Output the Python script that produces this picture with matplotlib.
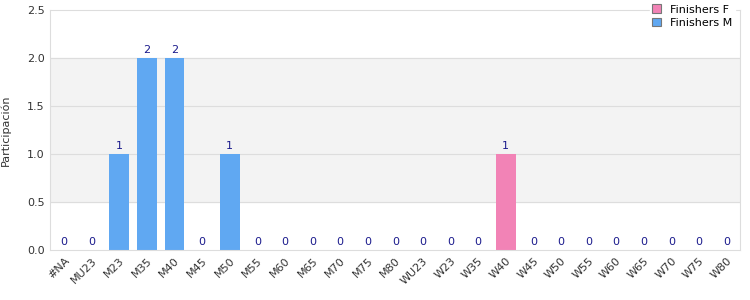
import matplotlib.pyplot as plt
import numpy as np

categories = ["#NA", "MU23", "M23", "M35", "M40", "M45", "M50", "M55", "M60", "M65",
              "M70", "M75", "M80", "WU23", "W23", "W35", "W40", "W45", "W50", "W55",
              "W60", "W65", "W70", "W75", "W80"]
finishers_f = [0, 0, 0, 0, 0, 0, 0, 0, 0, 0, 0, 0, 0, 0, 0, 0, 1, 0, 0, 0, 0, 0, 0, 0, 0]
finishers_m = [0, 0, 1, 2, 2, 0, 1, 0, 0, 0, 0, 0, 0, 0, 0, 0, 0, 0, 0, 0, 0, 0, 0, 0, 0]

pink = "#f283b6"
blue = "#60a8f2"

fig = plt.figure(figsize=(7.5, 3), dpi=100)
ax = fig.add_axes([0.067, 0.167, 0.92, 0.8])

x = np.arange(len(categories))
ax.axhspan(0.5, 2.0, color="#f3f3f3", zorder=0)
for y in [0.5, 1.0, 1.5, 2.0]:
    ax.axhline(y, color="#dddddd", lw=0.8, zorder=1)

ax.bar(x, finishers_f, width=0.72, color=pink, label="Finishers F", zorder=2)
ax.bar(x, finishers_m, width=0.72, bottom=finishers_f, color=blue, label="Finishers M", zorder=2)

totals = [f + m for f, m in zip(finishers_f, finishers_m)]
for xi, t in zip(x, totals):
    ax.text(xi, t + 0.03, str(t), ha="center", va="bottom", fontsize=8, color="#1a1a8c")

ax.set_xlim(-0.5, len(categories) - 0.5)
ax.set_ylim(0, 2.5)
ax.set_yticks([0, 0.5, 1.0, 1.5, 2.0, 2.5])
ax.set_yticklabels(["0.0", "0.5", "1.0", "1.5", "2.0", "2.5"])
ax.set_xticks(x)
ax.set_xticklabels(categories, rotation=45, ha="right", rotation_mode="anchor")
ax.tick_params(length=0, labelsize=8, colors="#333333", pad=4)
ax.set_ylabel("Participación", fontsize=8, color="#333333")
ax.yaxis.set_label_coords(-0.057, 0.5)
for s in ax.spines.values():
    s.set_color("#dddddd")

leg = ax.legend(loc="upper right", bbox_to_anchor=(1.0, 1.055), fontsize=8, frameon=True,
                framealpha=1, edgecolor="white", handlelength=0.8, handleheight=0.8,
                labelspacing=0.3, borderpad=0.2)
for h in leg.legend_handles:
    h.set_edgecolor("#777777")
    h.set_linewidth(0.8)
leg.set_zorder(5)

fig.savefig("out.png", dpi=100)
